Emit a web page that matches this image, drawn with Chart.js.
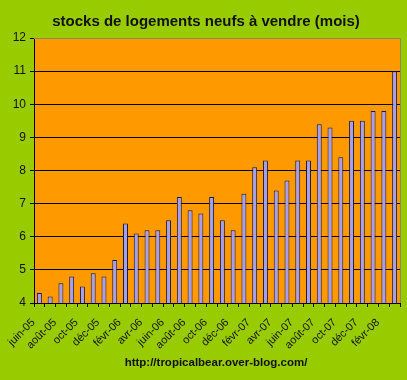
<!DOCTYPE html>
<html>
<head>
<meta charset="utf-8">
<script src="https://cdn.jsdelivr.net/npm/chart.js@4/dist/chart.umd.min.js"></script>
<style>
html,body{margin:0;padding:0;background:#99CC00;}
#wrap{width:407px;height:380px;}
</style>
</head>
<body>
<div id="wrap"><canvas id="c" width="407" height="380"></canvas></div>
<script>
const months = ["juin-05","juil-05","août-05","sept-05","oct-05","nov-05","déc-05","janv-06","févr-06","mars-06","avr-06","mai-06","juin-06","juil-06","août-06","sept-06","oct-06","nov-06","déc-06","janv-07","févr-07","mars-07","avr-07","mai-07","juin-07","juil-07","août-07","sept-07","oct-07","nov-07","déc-07","janv-08","févr-08","mars-08"];
const stockMonths = [4.3,4.2,4.6,4.8,4.5,4.9,4.8,5.3,6.4,6.1,6.2,6.2,6.5,7.2,6.8,6.7,7.2,6.5,6.2,7.3,8.1,8.3,7.4,7.7,8.3,8.3,9.4,9.3,8.4,9.5,9.5,9.8,9.8,11.0];
const tickLabels = ["juin-05","août-05","oct-05","déc-05","févr-06","avr-06","juin-06","août-06","oct-06","déc-06","févr-07","avr-07","juin-07","août-07","oct-07","déc-07","févr-08"];
const titleText = "stocks de logements neufs à vendre (mois)";
const footerText = "http://tropicalbear.over-blog.com/";
const yMin = 4, yMax = 12, yStep = 1;

const bgPlugin = {
  id: 'bg',
  beforeDraw(chart) {
    const {ctx, chartArea: a} = chart;
    ctx.save();
    ctx.fillStyle = '#99CC00';
    ctx.fillRect(0, 0, chart.width, chart.height);
    ctx.fillStyle = '#FF9900';
    ctx.fillRect(a.left, a.top, a.right - a.left, a.bottom - a.top);
    ctx.restore();
  },
  afterDatasetsDraw(chart) {
    const {ctx, chartArea: a} = chart;
    ctx.save();
    ctx.strokeStyle = '#8a8a5a';
    ctx.lineWidth = 1;
    ctx.beginPath();
    ctx.moveTo(a.left, a.top + 0.5);
    ctx.lineTo(a.right + 0.5, a.top + 0.5);
    ctx.lineTo(a.right + 0.5, a.bottom);
    ctx.stroke();
    ctx.restore();
  },
  afterDraw(chart) {
    const ctx = chart.ctx;
    ctx.save();
    ctx.fillStyle = '#111';
    ctx.font = 'bold 11.5px "Liberation Sans"';
    ctx.textAlign = 'center';
    ctx.textBaseline = 'middle';
    ctx.fillText(footerText, 216, 363);
    ctx.restore();
  }
};

new Chart(document.getElementById('c'), {
  type: 'bar',
  data: {
    labels: months,
    datasets: [{
      data: stockMonths,
      backgroundColor: '#A59FEF',
      borderColor: '#1a1a40',
      borderWidth: 1,
      categoryPercentage: 1,
      barPercentage: 0.46
    }]
  },
  options: {
    responsive: false,
    animation: false,
    devicePixelRatio: 1,
    layout: {padding: {left: 12, right: 7, top: 0, bottom: 27}},
    plugins: {
      legend: {display: false},
      tooltip: {enabled: false},
      title: {
        display: true,
        text: titleText,
        color: '#111',
        font: {family: 'Liberation Sans', size: 15, weight: 'bold'},
        padding: {top: 13, bottom: 7}
      }
    },
    scales: {
      x: {
        ticks: {
          autoSkip: false,
          minRotation: 45,
          maxRotation: 45,
          color: '#111',
          padding: 9,
          labelOffset: -6,
          font: {family: 'Liberation Sans', size: 11},
          callback: function(v, i) {
            const lbl = months[i];
            return tickLabels.includes(lbl) ? lbl : '';
          }
        },
        grid: {
          offset: true,
          drawOnChartArea: false,
          drawTicks: true,
          tickLength: 4,
          color: '#000'
        },
        border: {display: true, color: '#000', width: 1},
        afterFit(s) { s.height = 50; s.paddingLeft = 0; s.paddingRight = 0; }
      },
      y: {
        min: yMin,
        max: yMax,
        ticks: {
          stepSize: yStep,
          color: '#111',
          padding: 4,
          font: {family: 'Liberation Sans', size: 12}
        },
        grid: {
          color: (c) => (c.tick && c.tick.value === yMax) ? 'rgba(0,0,0,0)' : '#000',
          tickColor: '#000',
          tickLength: 4,
          lineWidth: 1
        },
        border: {display: true, color: '#000', width: 1},
        afterFit(s) { s.width = 22; }
      }
    }
  },
  plugins: [bgPlugin]
});
</script>
</body>
</html>
